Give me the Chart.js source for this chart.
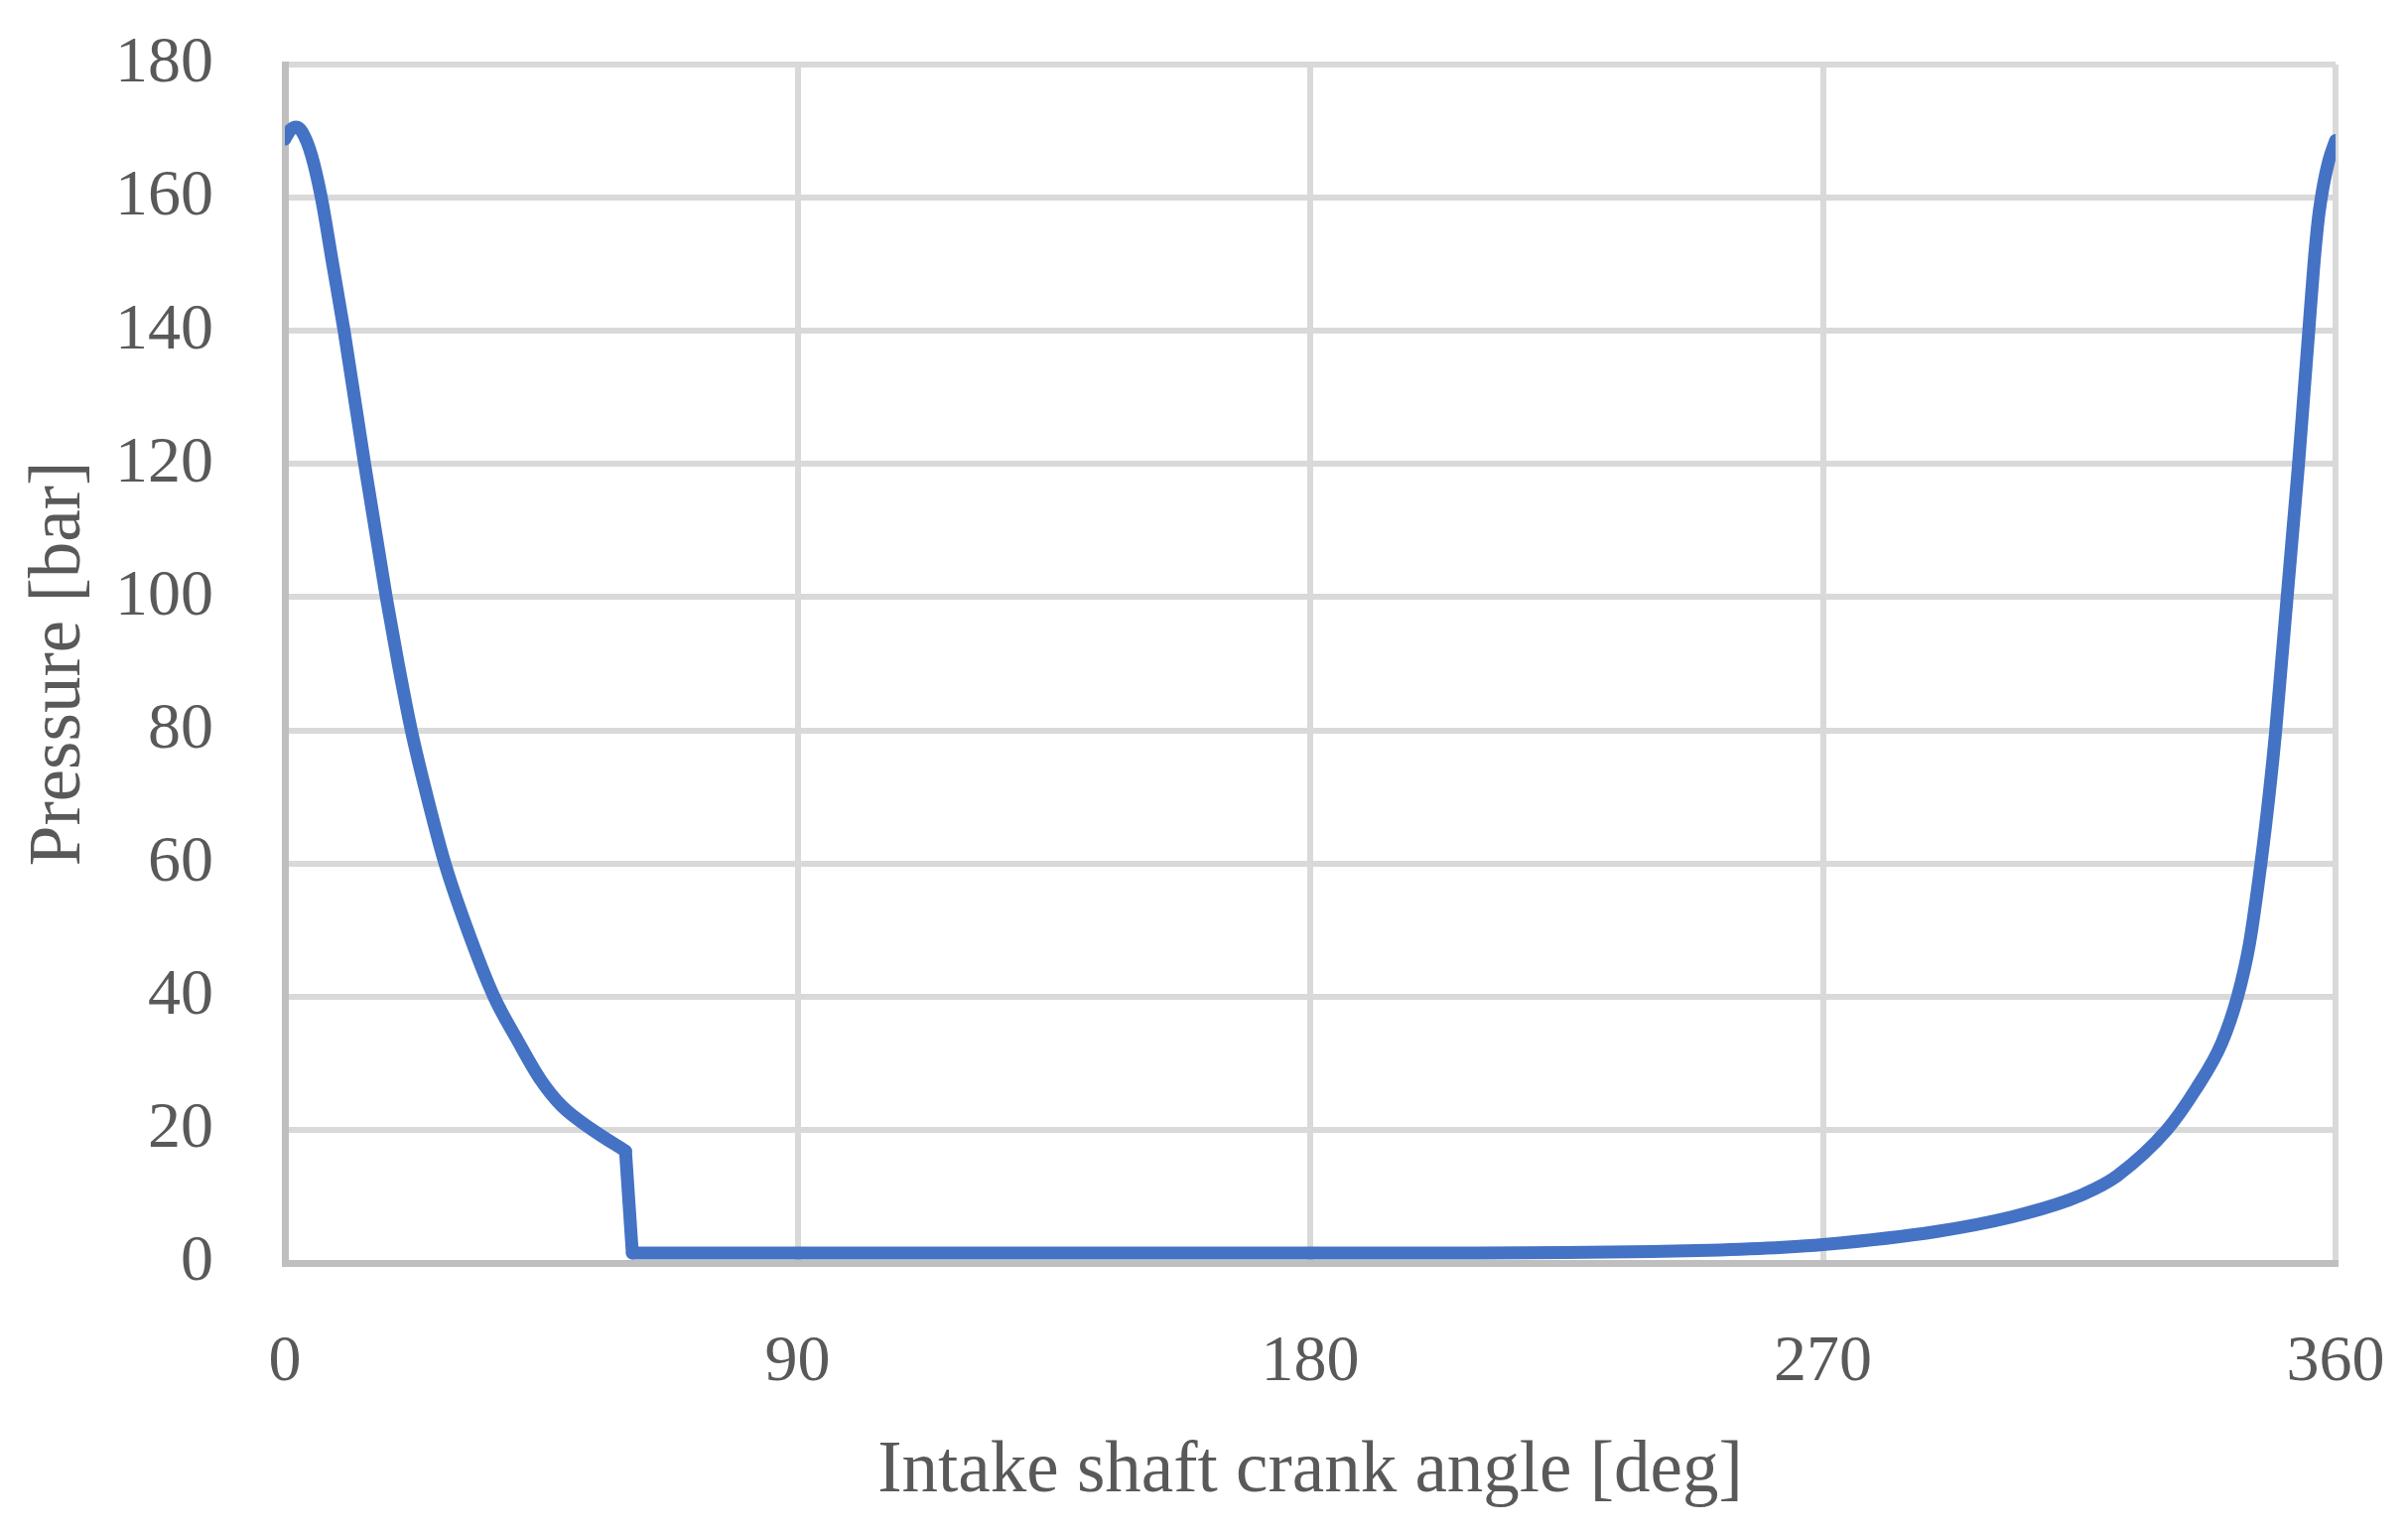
<!DOCTYPE html>
<html>
<head>
<meta charset="utf-8">
<script src="https://cdn.jsdelivr.net/npm/chart.js@4"></script>
<style>
html,body{margin:0;padding:0;background:#fff;}
#wrap{width:2426px;height:1546px;}
</style>
</head>
<body>
<div id="wrap"><canvas id="c" width="2426" height="1546"></canvas></div>
<script>
// Expansion stroke (0 deg to the valve opening)
const expansionAngle    = [0,1,2,3,4.7,6.4,8.4,10.4,14.0,17.8,19.9,22.2,24.9,28.1,31.9,36.7,40.8,44.9,48.7,54.0,59.8];
const expansionPressure = [168.8,170.2,170.6,169.9,166.3,160,150,140,120,100,90,80,70.3,60,50.4,40,33.5,27.5,23.5,20,16.8];
// Pressure drop at valve opening
const dropAngle    = [59.8,61.0];
const dropPressure = [16.8,1.5];
// Intake and compression (valve opening to 360 deg)
const compressionAngle    = [61.0,90,120,150,180,210,225,240,250,263,270,289.8,303.1,313.1,317.7,321.7,330.4,335.4,340.0,342.8,344.9,346.9,348.3,349.5,350.5,351.5,352.5,353.5,354.4,355.3,356.2,357.0,357.9,358.8,360];
const compressionPressure = [1.5,1.5,1.5,1.5,1.5,1.5,1.55,1.7,1.9,2.35,2.75,4.7,6.9,9.4,11.1,13.1,20,26,33,40,48,60,70,80,90,100,110,120,130,140,150,157,162,165.5,168.6];

const xTicks = [0,90,180,270,360];
const yTicks = [0,20,40,60,80,100,120,140,160,180];
const xTitle = 'Intake shaft crank angle [deg]';
const yTitle = 'Pressure [bar]';

const toPts = (xs, ys) => xs.map((a,i)=>({x:a,y:ys[i]}));
const FONT = "'Liberation Serif', 'Times New Roman', serif";
const TXT = '#595959';
const LINE = '#4472C4';
const base = {
  showLine: true, borderColor: LINE, backgroundColor: LINE, borderWidth: 13,
  pointRadius: 0, pointHoverRadius: 0, borderCapStyle: 'round', borderJoinStyle: 'round', fill: false
};

new Chart(document.getElementById('c'), {
  type: 'scatter',
  data: { datasets: [
    Object.assign({ data: toPts(expansionAngle, expansionPressure), cubicInterpolationMode: 'monotone' }, base),
    Object.assign({ data: toPts(dropAngle, dropPressure), tension: 0 }, base),
    Object.assign({ data: toPts(compressionAngle, compressionPressure), cubicInterpolationMode: 'monotone' }, base)
  ]},
  options: {
    responsive: false,
    devicePixelRatio: 1,
    animation: false,
    events: [],
    layout: { padding: { left: 0, top: 65, right: 73, bottom: 0 } },
    plugins: { legend: { display: false }, tooltip: { enabled: false } },
    scales: {
      x: {
        type: 'linear', min: 0, max: 360,
        afterBuildTicks: s => { s.ticks = xTicks.map(v=>({value:v})); },
        afterFit: s => { s.height = 274; s.paddingLeft = 0; s.paddingRight = 0; },
        grid: { color: '#d9d9d9', lineWidth: 6, drawTicks: false, tickLength: 0 },
        border: { color: '#bfbfbf', width: 7 },
        ticks: { color: TXT, padding: 61, font: { family: FONT, size: 66 }, maxRotation: 0 },
        title: { display: true, text: xTitle, color: TXT, font: { family: FONT, size: 73 }, padding: { top: 0, bottom: 19 } }
      },
      y: {
        type: 'linear', min: 0, max: 180,
        afterBuildTicks: s => { s.ticks = yTicks.map(v=>({value:v})); },
        afterFit: s => { s.width = 287; s.paddingTop = 0; s.paddingBottom = 0; },
        grid: { color: '#d9d9d9', lineWidth: 6, drawTicks: false, tickLength: 0 },
        border: { color: '#bfbfbf', width: 7 },
        ticks: { color: TXT, padding: 72, font: { family: FONT, size: 66 } },
        title: { display: true, text: yTitle, color: TXT, font: { family: FONT, size: 73 }, padding: { top: 17, bottom: 0 } }
      }
    }
  }
});
</script>
</body>
</html>
